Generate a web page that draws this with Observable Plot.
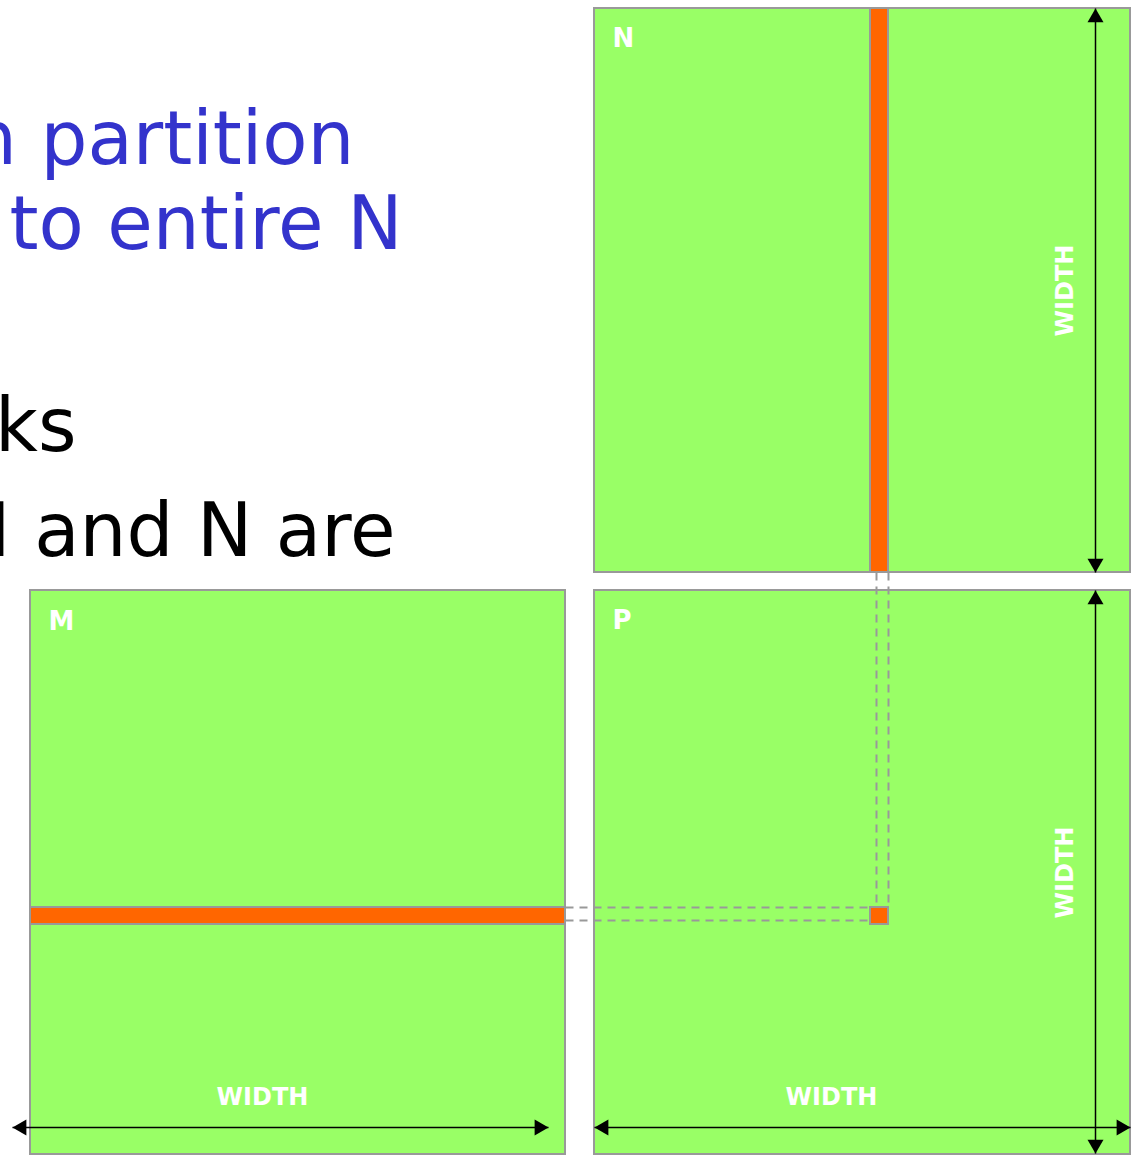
<!DOCTYPE html>
<html>
<head>
<meta charset="utf-8">
<script src="https://cdn.jsdelivr.net/npm/d3@7"></script>
<script src="https://cdn.jsdelivr.net/npm/@observablehq/plot@0.6"></script>
<style>
  html, body { margin: 0; padding: 0; background: white; overflow: hidden; }
  #chart svg { display: block; }
</style>
</head>
<body>
<div id="chart"></div>
<script>
// Matrices (pixel layout units)
const matrices = [
  {name: "N", x1: 594, x2: 1130, y1: 8,   y2: 572},
  {name: "M", x1: 30,  x2: 565,  y1: 590, y2: 1154},
  {name: "P", x1: 594, x2: 1130, y1: 590, y2: 1154}
];
// Highlighted column of N, row of M, element of P
const tiles = [
  {x1: 870, x2: 888, y1: 8,   y2: 572},
  {x1: 30,  x2: 565, y1: 907, y2: 924},
  {x1: 870, x2: 888, y1: 907, y2: 924}
];
// Dashed guide lines
const guides = [
  {x1: 876, y1: 572, x2: 876, y2: 907},
  {x1: 888, y1: 572, x2: 888, y2: 907},
  {x1: 565, y1: 907, x2: 870, y2: 907},
  {x1: 565, y1: 920, x2: 870, y2: 920}
];
// Double-headed dimension arrows
const arrows = [
  {x1: 1095, y1: 8,    x2: 1095, y2: 572},
  {x1: 1095, y1: 590,  x2: 1095, y2: 1153},
  {x1: 12,   y1: 1127, x2: 548,  y2: 1127},
  {x1: 594,  y1: 1127, x2: 1130, y2: 1127}
];
// Matrix name labels
const names = [
  {text: "N", x: 612, y: 46},
  {text: "M", x: 48,  y: 629},
  {text: "P", x: 612, y: 628}
];
// WIDTH labels
const widthLabels = [
  {text: "WIDTH", x: 1065, y: 290, rotate: -90},
  {text: "WIDTH", x: 1065, y: 872, rotate: -90},
  {text: "WIDTH", x: 262,  y: 1097, rotate: 0},
  {text: "WIDTH", x: 831,  y: 1097, rotate: 0}
];
// Slide text (partially off-screen on the left, as in the reference)
const slideText = [
  {text: "n partition", x: 354, y: 163, color: "#3333cc"},
  {text: "to entire N", x: 402, y: 248, color: "#3333cc"},
  {text: "ks",          x: 76,  y: 450, color: "#000000"},
  {text: "M and N are", x: 395, y: 555, color: "#000000"}
];

// Arrowheads derived from arrow endpoints
const side = 16;
const area = Math.sqrt(3) / 4 * side * side;
const r = Math.sqrt(area / Math.PI);
const centroidOffset = 2 * Math.sqrt(area / (Math.sqrt(3) * 3));
const heads = [];
for (const a of arrows) {
  const len = Math.hypot(a.x2 - a.x1, a.y2 - a.y1);
  const ux = (a.x2 - a.x1) / len, uy = (a.y2 - a.y1) / len;
  const angEnd = Math.atan2(uy, ux) * 180 / Math.PI + 90;
  heads.push({x: a.x2 - ux * centroidOffset, y: a.y2 - uy * centroidOffset, rot: angEnd});
  heads.push({x: a.x1 + ux * centroidOffset, y: a.y1 + uy * centroidOffset, rot: angEnd + 180});
}

const W = 1142, H = 1159;
const plot = Plot.plot({
  width: W,
  height: H,
  margin: 0,
  x: {domain: [0, W], range: [0, W], axis: null},
  y: {domain: [0, H], range: [0, H], axis: null},
  style: {fontFamily: "DejaVu Sans", background: "white", overflow: "hidden"},
  marks: [
    Plot.text(slideText, {x: "x", y: "y", text: "text", fill: "color", fontSize: 74,
      textAnchor: "end", lineAnchor: "bottom", fontFamily: "DejaVu Sans"}),
    Plot.rect(matrices, {x1: "x1", x2: "x2", y1: "y1", y2: "y2", fill: "#99ff66", stroke: "#999999", strokeWidth: 2}),
    Plot.rect(tiles, {x1: "x1", x2: "x2", y1: "y1", y2: "y2", fill: "#ff6600", stroke: "#999999", strokeWidth: 2}),
    Plot.link(guides, {x1: "x1", y1: "y1", x2: "x2", y2: "y2", stroke: "#999999", strokeWidth: 2, strokeDasharray: "8,6"}),
    Plot.text(names, {x: "x", y: "y", text: "text", fill: "white", fontSize: 26, fontWeight: "bold",
      textAnchor: "start", lineAnchor: "bottom"}),
    Plot.text(widthLabels, {x: "x", y: "y", text: "text", rotate: "rotate", fill: "white", fontSize: 24, fontWeight: "bold",
      textAnchor: "middle", lineAnchor: "middle"}),
    Plot.link(arrows, {x1: "x1", y1: "y1", x2: "x2", y2: "y2", stroke: "black", strokeWidth: 1.5}),
    Plot.dot(heads, {x: "x", y: "y", symbol: "triangle", r: r, rotate: "rot", fill: "black", stroke: "none"})
  ]
});
document.getElementById("chart").appendChild(plot);
</script>
</body>
</html>
